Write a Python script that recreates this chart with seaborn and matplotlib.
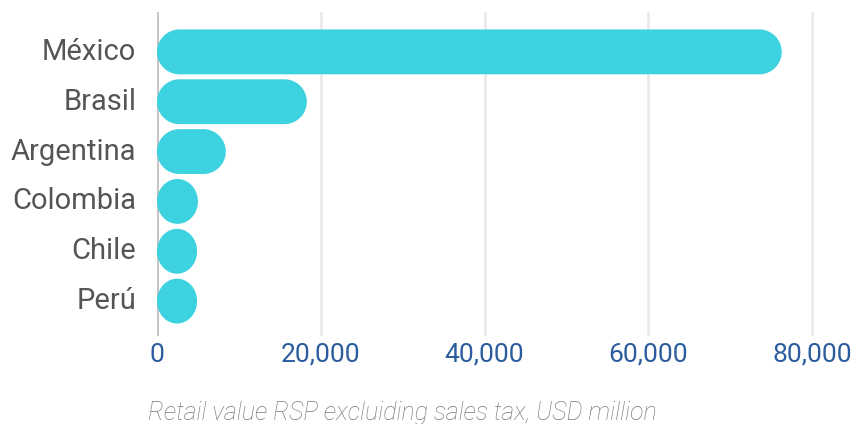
import matplotlib
matplotlib.use("Agg")
import matplotlib.pyplot as plt
from matplotlib.patches import Polygon
from matplotlib.ticker import FuncFormatter
from matplotlib.transforms import ScaledTranslation
import numpy as np
import seaborn as sns
import pandas as pd

# Retail value by country (USD million)
countries = ["México", "Brasil", "Argentina", "Colombia", "Chile", "Perú"]
values = [76300, 18300, 8400, 5000, 4900, 4900]
x_ticks = [0, 20000, 40000, 60000, 80000]
x_label = "Retail value RSP excluiding sales tax, USD million"

BAR_COLOR = "#3dd2e0"
GRID_COLOR = "#e8e8e8"
ZERO_COLOR = "#c6c6c6"
TICK_COLOR = "#2a5c9e"
CAT_COLOR = "#555555"
LABEL_COLOR = "#7a7a7a"

sns.set_style("white")
plt.rcParams["font.family"] = ["Roboto", "DejaVu Sans"]

W, H = 851, 424
fig = plt.figure(figsize=(W / 100, H / 100), dpi=100)

# axes placed in pixel terms
ax_left, ax_right, ax_top, ax_bottom = 157, 836.6, 12, 336
ax = fig.add_axes([ax_left / W, (H - ax_bottom) / H,
                   (ax_right - ax_left) / W, (ax_bottom - ax_top) / H])

df = pd.DataFrame({"country": countries, "value": values})
sns.barplot(data=df, x="value", y="country", orient="h", color=BAR_COLOR,
            width=0.9, saturation=1, ax=ax, zorder=3)

xmax = 83000
ax.set_xlim(0, xmax)
ax.set_ylim(5.7, -0.8)

# replace square bars with pill shapes (end radius = half the bar height on screen)
px_x = (ax_right - ax_left) / xmax
px_y = (ax_bottom - ax_top) / 6.5


def pill_outline(x0, y0, w, h, n=40):
    r_px = h * px_y / 2
    rx = min(r_px, w * px_x / 2) / px_x
    ry = h / 2
    yc = y0 + h / 2
    t = np.linspace(-np.pi / 2, np.pi / 2, n)
    right = np.column_stack([x0 + w - rx + rx * np.cos(t), yc + ry * np.sin(t)])
    t2 = np.linspace(np.pi / 2, 3 * np.pi / 2, n)
    left = np.column_stack([x0 + rx + rx * np.cos(t2), yc + ry * np.sin(t2)])
    return np.vstack([right, left])


for p in list(ax.patches):
    pts = pill_outline(p.get_x(), p.get_y(), p.get_width(), p.get_height())
    p.remove()
    ax.add_patch(Polygon(pts, closed=True, facecolor=BAR_COLOR,
                         edgecolor="none", zorder=3))

# vertical grid lines and zero line
for t in x_ticks:
    if t == 0:
        ax.axvline(t, color=ZERO_COLOR, lw=2.2, zorder=2)
    else:
        ax.axvline(t, color=GRID_COLOR, lw=1.8, zorder=1)

for s in ax.spines.values():
    s.set_visible(False)

ax.set_xticks(x_ticks)
ax.xaxis.set_major_formatter(FuncFormatter(lambda v, _: f"{int(v):,}"))
ax.tick_params(axis="x", length=0, pad=5, labelsize=19, labelcolor=TICK_COLOR)
ax.tick_params(axis="y", length=0, pad=15, labelsize=21, labelcolor=CAT_COLOR)
ax.set_ylabel("")

# nudge category labels slightly upward
shift = ScaledTranslation(0, 3 / 100, fig.dpi_scale_trans)
for lbl in ax.get_yticklabels():
    lbl.set_transform(lbl.get_transform() + shift)

ax.set_xlabel(x_label, fontsize=18, color=LABEL_COLOR, style="italic",
              fontweight="light", va="center")
ax.xaxis.set_label_coords((402 - ax_left) / (ax_right - ax_left),
                          (ax_bottom - 413) / (ax_bottom - ax_top))

fig.savefig("out.png", dpi=100)
